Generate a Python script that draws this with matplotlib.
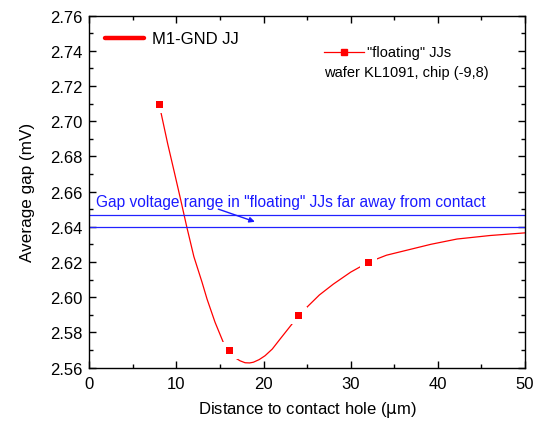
import matplotlib.pyplot as plt
from matplotlib.ticker import MultipleLocator

plt.rcParams['font.family'] = ['Liberation Sans', 'DejaVu Sans']

# measured "floating" JJs
dist = [8, 16, 24, 32]
gap = [2.71, 2.57, 2.59, 2.62]

# smooth line through the data
curve_x = [8.0, 8.3, 9.0, 9.76, 10.5, 11.18, 12.0, 12.94, 13.51, 14.43, 15.5,
           16.0, 16.65, 17.3, 17.88, 18.4, 18.83, 19.5, 20.17, 21.0, 21.9,
           22.7, 23.42, 24.0, 24.96, 26.4, 28.01, 30.0, 32.03, 34.1, 36.4,
           39.2, 42.2, 46.0, 50.0]
curve_y = [2.710, 2.7031, 2.687, 2.6709, 2.655, 2.640, 2.623, 2.6084, 2.5989,
           2.5857, 2.5728, 2.5692, 2.5658, 2.5638, 2.5627, 2.5626, 2.5630,
           2.5645, 2.5667, 2.5705, 2.5762, 2.5812, 2.5857, 2.5893, 2.5942,
           2.6012, 2.6074, 2.6142, 2.6198, 2.6238, 2.6266, 2.6300, 2.6330,
           2.6350, 2.6365]

# gap voltage range for far-away floating JJs
band = [2.640, 2.6465]

fig = plt.figure(figsize=(5.39, 4.31), dpi=100)
ax = fig.add_axes([0.1657, 0.145, 0.8083, 0.8167])

ax.plot(curve_x, curve_y, color='red', lw=0.9, zorder=2)
ax.plot(dist, gap, ls='none', marker='s', ms=8.6, mfc='red', mec='white',
        mew=3.6, zorder=3)

for b in band:
    ax.axhline(b, color='#2222ff', lw=0.9)

ax.text(0.75, 2.652, 'Gap voltage range in "floating" JJs far away from contact',
        color='#1a1aff', fontsize=11.2, va='baseline')
ax.annotate('', xy=(19.0, 2.6428), xytext=(14.8, 2.650),
            arrowprops=dict(arrowstyle='-|>', color='#1a1aff', lw=1.0,
                            mutation_scale=8, shrinkA=0, shrinkB=0))

# legend entries
ax.plot([0.036, 0.126], [0.936, 0.936], transform=ax.transAxes, color='red',
        lw=3.2, solid_capstyle='round')
ax.text(0.145, 0.936, 'M1-GND JJ', transform=ax.transAxes, fontsize=12,
        va='center')
ax.plot([0.539, 0.631], [0.895, 0.895], transform=ax.transAxes, color='red',
        lw=0.9)
ax.plot([0.585], [0.895], transform=ax.transAxes, marker='s', ms=5,
        color='red', ls='none')
ax.text(0.638, 0.895, '"floating" JJs', transform=ax.transAxes, fontsize=10.5,
        va='center')
ax.text(0.539, 0.839, 'wafer KL1091, chip (-9,8)', transform=ax.transAxes,
        fontsize=10.5, va='center')

ax.set_xlim(0, 50)
ax.set_ylim(2.56, 2.76)
ax.xaxis.set_major_locator(MultipleLocator(10))
ax.xaxis.set_minor_locator(MultipleLocator(5))
ax.yaxis.set_major_locator(MultipleLocator(0.02))
ax.yaxis.set_minor_locator(MultipleLocator(0.01))
ax.yaxis.set_major_formatter(plt.FormatStrFormatter('%.2f'))
ax.tick_params(which='both', direction='in', top=True, right=True,
               labelsize=12, width=1.0)
ax.tick_params(which='major', length=5, pad=6)
ax.tick_params(which='minor', length=3)
ax.tick_params(axis='y', pad=5)
for s in ax.spines.values():
    s.set_linewidth(1.0)

ax.set_xlabel('Distance to contact hole ($\\mathrm{\\mu}$m)', fontsize=12,
              labelpad=6)
ax.set_ylabel('Average gap (mV)', fontsize=12.3, labelpad=11)

fig.savefig('out.png', dpi=100)
